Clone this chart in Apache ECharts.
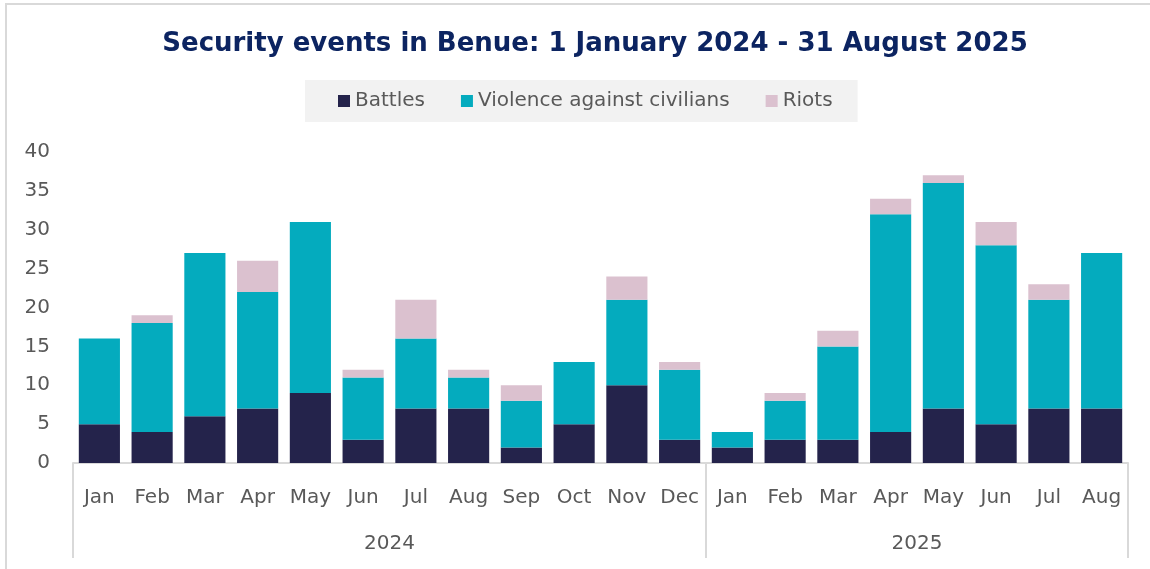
<!DOCTYPE html>
<html>
<head>
<meta charset="utf-8">
<script src="https://cdn.jsdelivr.net/npm/echarts@6/dist/echarts.min.js"></script>
<style>
  html, body { margin: 0; padding: 0; background: #fff; }
  #main { width: 1150px; height: 569px; }
</style>
</head>
<body>
<div id="main"></div>
<script>
// months, grouped by year
var months = ['Jan', 'Feb', 'Mar', 'Apr', 'May', 'Jun', 'Jul', 'Aug', 'Sep', 'Oct', 'Nov', 'Dec',
              'Jan', 'Feb', 'Mar', 'Apr', 'May', 'Jun', 'Jul', 'Aug'];
var years = ['2024', '2025'];
var monthsPerYear = [12, 8];

var battles    = [5, 4, 6, 7, 9, 3, 7, 7, 2, 5, 10, 3,   2, 3, 3, 4, 7, 5, 7, 7];
var violence   = [11, 14, 21, 15, 22, 8, 9, 4, 6, 8, 11, 9,   2, 5, 12, 28, 29, 23, 14, 20];
var riots      = [0, 1, 0, 4, 0, 1, 5, 1, 2, 0, 3, 1,   0, 1, 2, 2, 1, 3, 2, 0];

var yTicks = [0, 5, 10, 15, 20, 25, 30, 35, 40];

// year group boundaries / centres on the category scale
var bounds = [0], mids = [];
monthsPerYear.forEach(function (n, i) {
    mids.push(bounds[i] + n / 2);
    bounds.push(bounds[i] + n);
});

var font = 'DejaVu Sans';
var grey = '#595959';

var myChart = echarts.init(document.getElementById('main'));
var option = {
    animation: false,
    title: {
        text: 'Security events in Benue: 1 January 2024 - 31 August 2025',
        left: 590,
        top: 26,
        textAlign: 'center',
        textStyle: {
            fontFamily: font,
            fontSize: 26,
            fontWeight: 'bold',
            color: '#0c2461'
        }
    },
    legend: {
        left: 305,
        top: 80,
        padding: [11, 25, 11, 33],
        backgroundColor: '#f2f2f2',
        itemWidth: 12,
        itemHeight: 12,
        itemGap: 36,
        icon: 'rect',
        textStyle: { fontFamily: font, fontSize: 20, color: grey },
        data: ['Battles', 'Violence against civilians', 'Riots']
    },
    grid: {
        left: 73,
        right: 22,
        top: 152,
        bottom: 106
    },
    xAxis: [
        {
            type: 'category',
            data: months,
            axisLine: { lineStyle: { color: '#d9d9d9', width: 2 } },
            axisTick: { show: false },
            axisLabel: {
                interval: 0,
                margin: 25,
                fontFamily: font,
                fontSize: 20,
                color: grey
            }
        },
        {
            // year level of the category axis
            type: 'value',
            position: 'bottom',
            min: 0,
            max: months.length,
            axisLine: { show: false },
            splitLine: { show: false },
            axisTick: {
                show: true,
                customValues: bounds,
                length: 95,
                lineStyle: { color: '#d9d9d9', width: 2 }
            },
            axisLabel: {
                customValues: mids,
                margin: 71,
                fontFamily: font,
                fontSize: 20,
                color: grey,
                formatter: function (v) {
                    return years[mids.indexOf(v)];
                }
            }
        }
    ],
    yAxis: {
        type: 'value',
        min: yTicks[0],
        max: yTicks[yTicks.length - 1],
        interval: 5,
        axisLine: { show: false },
        axisTick: { show: false },
        splitLine: { show: false },
        axisLabel: {
            margin: 23,
            fontFamily: font,
            fontSize: 20,
            color: grey
        }
    },
    series: [
        {
            name: 'Battles',
            type: 'bar',
            stack: 'total',
            barCategoryGap: '22%',
            itemStyle: { color: '#24234b' },
            data: battles
        },
        {
            name: 'Violence against civilians',
            type: 'bar',
            stack: 'total',
            itemStyle: { color: '#04abbe' },
            data: violence
        },
        {
            name: 'Riots',
            type: 'bar',
            stack: 'total',
            itemStyle: { color: '#dbc1cf' },
            data: riots
        }
    ],
    graphic: [
        {
            type: 'rect',
            silent: true,
            shape: { x: 6, y: 4, width: 1200, height: 700 },
            style: { fill: 'none', stroke: '#d9d9d9', lineWidth: 2 }
        }
    ]
};
myChart.setOption(option);
</script>
</body>
</html>
